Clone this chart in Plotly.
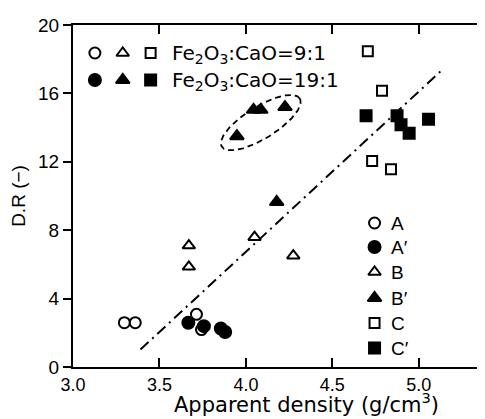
import numpy as np
import plotly.graph_objects as go

# ---- data ----
A_x = [3.297, 3.36, 3.714, 3.743]
A_y = [2.59, 2.59, 3.08, 2.19]
Ap_x = [3.667, 3.757, 3.855, 3.88]
Ap_y = [2.59, 2.39, 2.25, 2.05]
B_x = [3.67, 3.67, 4.05, 4.274]
B_y = [7.1, 5.86, 7.59, 6.51]
Bp_x = [3.948, 4.044, 4.086, 4.226, 4.178]
Bp_y = [13.5, 15.04, 15.04, 15.2, 9.65]
C_x = [4.705, 4.787, 4.73, 4.839]
C_y = [18.47, 16.16, 12.04, 11.57]
Cp_x = [4.695, 4.874, 4.897, 4.944, 5.056]
Cp_y = [14.69, 14.69, 14.16, 13.67, 14.49]
fit_x = [3.39, 5.145]
fit_y = [1.02, 17.47]
x_ticks = [3.0, 3.5, 4.0, 4.5, 5.0]
x_tick_labels = ["3.0", "3.5", "4.0", "4.5", "5.0"]
y_ticks = [0, 4, 8, 12, 16, 20]
series_names = ["A", "A\u2032", "B", "B\u2032", "C", "C\u2032"]

# ---- layout constants ----
W, H = 485, 419
ML, MR, MT, MB = 65, 3, 17, 60
XR = [3.0, 5.4]
YR = [0, 20]
FONT = "Liberation Sans"
WIDE = "DejaVu Sans"
PW = W - ML - MR
PH = H - MT - MB

def px2paper(px, py):
    return (px - ML) / PW, (H - MB - py) / PH

STYLES = {
    "A": ("circle", False, 11),
    "A\u2032": ("circle", True, 12),
    "B": ("triangle-up", False, 11),
    "B\u2032": ("triangle-up", True, 12),
    "C": ("square", False, 10),
    "C\u2032": ("square", True, 11),
}

def mk(name):
    symbol, filled, size = STYLES[name]
    return dict(symbol=symbol, size=size, color="black" if filled else "white",
                line=dict(color="black", width=2))

fig = go.Figure()

# fit line
fig.add_trace(go.Scatter(x=fit_x, y=fit_y, mode="lines", showlegend=False,
                         line=dict(color="black", width=2, dash="11px,5px,2px,5px")))

for name, xs, ys in zip(series_names, [A_x, Ap_x, B_x, Bp_x, C_x, Cp_x],
                        [A_y, Ap_y, B_y, Bp_y, C_y, Cp_y]):
    fig.add_trace(go.Scatter(x=xs, y=ys, mode="markers", name=name,
                             marker=mk(name), showlegend=False))

# dashed ellipse around the B' cluster (pixel-shaped ellipse mapped to data units)
sx = PW / (XR[1] - XR[0])
sy = PH / (YR[1] - YR[0])
cx, cy = 4.086, 14.29
a, b, th = 46, 16, np.deg2rad(31.6)
t = np.linspace(0, 2 * np.pi, 200)
ex = cx + (a * np.cos(t) * np.cos(th) - b * np.sin(t) * np.sin(th)) / sx
ey = cy + (a * np.cos(t) * np.sin(th) + b * np.sin(t) * np.cos(th)) / sy
fig.add_trace(go.Scatter(x=ex, y=ey, mode="lines", showlegend=False,
                         line=dict(color="black", width=1.8, dash="6px,4px")))

# invisible trace for the right-hand mirror axis
fig.add_trace(go.Scatter(x=XR, y=YR, yaxis="y2", mode="markers",
                         marker=dict(opacity=0), showlegend=False, hoverinfo="skip"))

# ---- keys drawn on an overlay axis measured in layout pixels ----
annos = []
def key_marker(px, py, name):
    fig.add_trace(go.Scatter(x=[px], y=[py], xaxis="x3", yaxis="y3", mode="markers",
                             marker=mk(name), showlegend=False, hoverinfo="skip",
                             cliponaxis=False))

# top-left key
key_rows = [(45, ["A", "B", "C"], "Fe<sub>2</sub>O<sub>3</sub>:CaO=9:1"),
            (72, ["A\u2032", "B\u2032", "C\u2032"], "Fe<sub>2</sub>O<sub>3</sub>:CaO=19:1")]
for py, names, label in key_rows:
    for gx, n in zip([87, 115, 143], names):
        key_marker(gx, py, n)
    xp, yp = px2paper(162, py + 1)
    annos.append(dict(x=xp, y=yp, xref="paper", yref="paper", text=label,
                      showarrow=False, xanchor="left", yanchor="middle",
                      font=dict(family=WIDE, size=20, color="black")))

# right-hand legend
leg_y = [215, 239, 264, 290, 315, 340]
for py, n in zip(leg_y, series_names):
    key_marker(368, py, n)
    xp, yp = px2paper(383, py)
    annos.append(dict(x=xp, y=yp, xref="paper", yref="paper", text=n,
                      showarrow=False, xanchor="left", yanchor="middle",
                      font=dict(family=FONT, size=19, color="black")))

# x-axis title (shifted right as in the original)
xp, yp = px2paper(300, 395)
annos.append(dict(x=xp, y=yp, xref="paper", yref="paper",
                  text="Apparent density (g/cm<sup>3</sup>)",
                  showarrow=False, xanchor="center", yanchor="middle",
                  font=dict(family=WIDE, size=21, color="black")))

fig.update_layout(
    width=W, height=H,
    margin=dict(l=ML, r=MR, t=MT, b=MB),
    paper_bgcolor="white", plot_bgcolor="white",
    font=dict(family=FONT, size=18, color="black"),
    showlegend=False,
    xaxis=dict(range=XR, tickvals=x_ticks, ticktext=x_tick_labels,
               ticks="inside", ticklen=9, tickwidth=2, tickcolor="black",
               showline=True, linewidth=2, linecolor="black", mirror="ticks",
               showgrid=False, zeroline=False,
               tickfont=dict(family=FONT, size=18)),
    yaxis=dict(range=YR, tickvals=y_ticks,
               ticks="outside", ticklen=8, tickwidth=2, tickcolor="black",
               showline=True, linewidth=2, linecolor="black", mirror=True,
               showgrid=False, zeroline=False,
               title=dict(text="D.R (\u2212)", standoff=8,
                          font=dict(family=FONT, size=19)),
               tickfont=dict(family=FONT, size=19)),
    yaxis2=dict(range=YR, tickvals=y_ticks, overlaying="y", side="right",
                ticks="inside", ticklen=9, tickwidth=2, tickcolor="black",
                showticklabels=False, showgrid=False, zeroline=False,
                showline=False),
    xaxis3=dict(range=[ML, W - MR], overlaying="x", visible=False),
    yaxis3=dict(range=[H - MB, MT], overlaying="y", visible=False),
    annotations=annos,
)

fig.write_html("out.html")
